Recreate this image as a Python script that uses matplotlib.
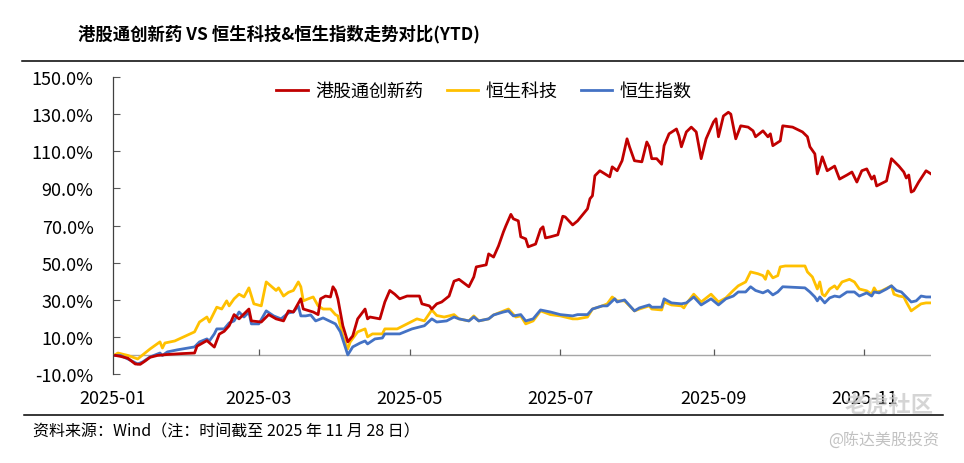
import matplotlib
matplotlib.use("Agg")
import matplotlib.pyplot as plt
from matplotlib.lines import Line2D
import pandas as pd

plt.rcParams['font.family'] = ['Noto Sans CJK SC', 'DejaVu Sans']

title = "港股通创新药 VS 恒生科技&恒生指数走势对比(YTD)"
source = "资料来源：Wind（注：时间截至 2025 年 11 月 28 日）"
series_names = ["港股通创新药", "恒生科技", "恒生指数"]
y_ticks = [-10, 10, 30, 50, 70, 90, 110, 130, 150]
x_ticks = ["2025-01-01", "2025-03-01", "2025-05-01", "2025-07-01", "2025-09-01", "2025-11-01"]
x_labels = ["2025-01", "2025-03", "2025-05", "2025-07", "2025-09", "2025-11"]

red_dates = ["01-02","01-04","01-07","01-10","01-12","01-14","01-16","01-19","01-23","01-29",
             "02-03","02-04","02-08","02-11","02-13","02-15","02-17","02-19","02-21","02-25","02-26",
             "03-02","03-05","03-08","03-11","03-13","03-15","03-18","03-19","03-23","03-25","03-26",
             "03-28","03-30","03-31","04-01","04-02","04-04","04-06","04-08","04-10","04-13","04-14",
             "04-15","04-19","04-21","04-23","04-25","04-27","04-30","05-05","05-06","05-09","05-10",
             "05-12","05-14","05-17","05-19","05-21","05-25","05-27","05-28","06-01","06-02","06-04",
             "06-06","06-08","06-09","06-11","06-12","06-14","06-15","06-17","06-18","06-21","06-23",
             "06-24","06-25","06-27","06-30","07-02","07-03","07-06","07-08","07-12","07-13","07-14",
             "07-15","07-17","07-21","07-22","07-24","07-26","07-28","07-29","07-31","08-03","08-05",
             "08-06","08-07","08-09","08-11","08-12","08-14","08-17","08-18","08-19","08-21","08-23",
             "08-25","08-27","08-29","09-01","09-02","09-03","09-05","09-07","09-08","09-10","09-12",
             "09-15","09-17","09-18","09-21","09-23","09-24","09-25","09-28","09-29","10-03","10-07",
             "10-09","10-10","10-12","10-13","10-14","10-15","10-17","10-20","10-22","10-25","10-27",
             "10-29","10-31","11-02","11-04","11-05","11-06","11-10","11-12","11-15","11-17","11-18",
             "11-19","11-20","11-21","11-23","11-26","11-28"]
red_vals = [0, -0.5, -1.5, -4.6, -4.8, -3, -1, 0, 0.5, 1.0,
            1.3, 5, 8, 4.5, 11.5, 13, 16, 22, 19.7, 25, 18.6,
            18, 22, 19.7, 18.6, 24, 23.4, 30.5, 25, 23.4, 22, 30.5,
            32, 31.5, 37, 35, 30.5, 16, 7.3, 10.5, 19.7, 25, 19.7,
            20.7, 19.7, 28.8, 35, 33, 30.5, 32, 32, 27.8, 26.7, 25,
            27.8, 28.8, 32, 40, 41, 37, 42.3, 47.7, 48.8, 54.7, 53,
            59, 66.6, 69.9, 76, 73.6, 72.5, 63.9, 62.8, 58.5, 60, 68,
            69.3, 63.3, 63.9, 65, 75, 74.6, 70.3, 72.5, 79, 84.4, 86,
            96.8, 99.5, 96.2, 101.6, 99.5, 104.9, 116.7, 112.4, 104.9, 104.3, 115,
            112.4, 106, 106, 103, 113, 119.4, 122, 118.3, 112.4, 120.4, 123,
            120.4, 106, 116.7, 125.8, 127.5, 117.8, 129, 131, 130, 116.7, 123.7,
            123, 121, 117.8, 121, 117.8, 119.4, 113, 115.6, 123.7, 123, 120.4,
            117.8, 112.4, 108.6, 97.8, 102, 107, 99.5, 102, 95, 97.2, 98.8,
            93.4, 99.5, 100.5, 95, 96.7, 91.3, 94, 106, 102, 98.8, 95.6,
            97.2, 88, 88.7, 93.4, 99.5, 97.8]

yel_dates = ["01-02","01-03","01-07","01-11","01-12","01-16","01-20","01-21","01-22","01-26",
             "02-03","02-05","02-08","02-09","02-12","02-14","02-16","02-17","02-19","02-21","02-23",
             "02-25","02-27","03-02","03-04","03-08","03-09","03-11","03-13","03-15","03-17","03-18",
             "03-19","03-21","03-23","03-25","03-27","03-30","04-01","04-02","04-04","04-06","04-07",
             "04-10","04-13","04-14","04-16","04-20","04-21","04-26","04-30","05-04","05-07","05-10",
             "05-12","05-15","05-17","05-19","05-21","05-25","05-27","05-29","06-02","06-04","06-07",
             "06-10","06-13","06-15","06-17","06-20","06-23","06-27","07-01","07-06","07-08","07-12",
             "07-14","07-18","07-20","07-22","07-24","07-27","07-31","08-02","08-06","08-07","08-11",
             "08-12","08-15","08-19","08-20","08-21","08-24","08-27","08-31","09-03","09-06","09-09",
             "09-11","09-14","09-16","09-19","09-21","09-22","09-23","09-25","09-27","09-28","09-30",
             "10-08","10-09","10-11","10-13","10-14","10-15","10-16","10-18","10-20","10-21","10-23",
             "10-26","10-28","10-30","11-02","11-04","11-05","11-06","11-08","11-12","11-13","11-15",
             "11-17","11-18","11-20","11-21","11-24","11-26","11-28"]
yel_vals = [0.5, 1.3, 0, -1.9, -0.8, 3.5, 7.3, 4, 6.7, 7.8,
            12.7, 18, 20.7, 18, 26, 25, 29.4, 26.7, 30.5, 33, 31.5,
            36.4, 27.8, 26.7, 39.6, 35, 36.4, 32, 34, 35, 39.6, 37,
            29.4, 30.5, 31.5, 26.7, 25, 25, 22, 21.3, 10.5, 3.5, 7.3,
            12.7, 14.3, 10, 11.6, 11.6, 14.3, 14.3, 17, 19.7, 18.6, 24.5,
            21.5, 20.7, 21.3, 22, 19.7, 18.6, 21.3, 18.6, 19.7, 21.8, 23.4,
            25, 20.7, 21.3, 17, 18.6, 24, 22, 21.3, 19.7, 19.7, 20.7,
            25, 26.7, 27.8, 31.5, 29.4, 29.4, 24, 25, 26.7, 25, 24.5,
            28.8, 27.2, 26.7, 25.6, 27.8, 33, 28.8, 33, 28.8, 31, 35,
            37.5, 39.6, 45, 44, 43, 41, 45.5, 41.8, 43, 47.7, 48.2,
            48.2, 45, 42.3, 35.8, 39.6, 33, 32, 35.8, 37.5, 35.8, 39.6,
            41, 39.6, 35.8, 34.8, 33, 36.4, 34.2, 34.8, 37.5, 33, 32,
            31.5, 28.8, 24, 25, 27.8, 28.3, 28.3]

blu_dates = ["01-02","01-04","01-07","01-11","01-13","01-16","01-20","01-21","01-23","01-27",
             "02-03","02-05","02-08","02-09","02-11","02-12","02-15","02-17","02-19","02-21","02-23",
             "02-25","02-26","03-01","03-04","03-07","03-10","03-13","03-15","03-17","03-18","03-20",
             "03-22","03-24","03-27","04-01","04-03","04-06","04-08","04-11","04-13","04-14","04-17",
             "04-20","04-21","04-27","05-02","05-07","05-10","05-12","05-16","05-19","05-21","05-25",
             "05-27","05-29","06-02","06-04","06-08","06-10","06-12","06-15","06-17","06-20","06-23",
             "06-27","07-01","07-06","07-08","07-12","07-14","07-18","07-20","07-23","07-24","07-27",
             "07-31","08-02","08-06","08-07","08-11","08-12","08-15","08-19","08-21","08-24","08-27",
             "08-31","09-03","09-06","09-09","09-11","09-14","09-16","09-18","09-21","09-23","09-25",
             "09-27","09-29","10-08","10-10","10-12","10-13","10-14","10-16","10-18","10-20","10-22",
             "10-25","10-28","10-30","11-02","11-04","11-05","11-07","11-10","11-12","11-14","11-16",
             "11-18","11-20","11-22","11-24","11-26","11-28"]
blu_vals = [0, 0, -1.9, -4.6, -3.5, -0.8, 1.3, 0, 1.9, 3,
            4.6, 7.3, 8.9, 7.8, 11.6, 14.3, 14.3, 17.5, 18.6, 23.4, 20.7,
            23.4, 17, 17, 24, 21.3, 19.7, 22.9, 23.4, 26.7, 21.3, 21.3,
            21.8, 18.6, 20.2, 17, 12.7, 0.3, 4.6, 6.7, 7.8, 6.2, 8.9,
            9.4, 11.6, 11.6, 14.3, 16, 19.7, 18, 18.6, 20.7, 19.7, 18.6,
            20.7, 18.6, 19.7, 21.8, 23.4, 24, 21.3, 22, 18.6, 19.7, 24.5,
            23.4, 22, 21.3, 22, 22, 25, 26.7, 26.7, 30.5, 28.8, 29.9,
            24, 25.6, 27.2, 26, 26, 30.5, 28.3, 27.8, 28.3, 31.5, 27.2,
            30.5, 27.2, 30.5, 32, 34.2, 34.2, 37, 35, 33.7, 35, 32.6,
            34.2, 37, 36.4, 34.2, 31.5, 29.4, 31.5, 28.3, 31, 32, 31.5,
            34.2, 34.2, 32, 33.7, 32, 34.2, 33.7, 35.8, 37.5, 35, 34.2,
            31.5, 28.8, 29.4, 32, 31.5, 31.5]

colors = ["#C00000", "#FFC000", "#4472C4"]


def to_dt(ds):
    return pd.to_datetime(["2025-" + d for d in ds])


W, H = 964, 464
fig = plt.figure(figsize=(W / 100, H / 100), dpi=100)
ax_left, ax_right, ax_top, ax_bot = 113, 931, 78, 375
ax = fig.add_axes([ax_left / W, 1 - ax_bot / H, (ax_right - ax_left) / W, (ax_bot - ax_top) / H])

ax.plot(to_dt(yel_dates), yel_vals, color=colors[1], lw=2.0, solid_joinstyle='round', zorder=3)
ax.plot(to_dt(blu_dates), blu_vals, color=colors[2], lw=2.0, solid_joinstyle='round', zorder=4)
ax.plot(to_dt(red_dates), red_vals, color=colors[0], lw=2.0, solid_joinstyle='round', zorder=5)

ax.set_xlim(pd.Timestamp("2025-01-01"), pd.Timestamp("2025-11-28"))
ax.set_ylim(-10, 150)
ax.set_yticks(y_ticks)
ax.set_yticklabels([f"{t:.1f}%" for t in y_ticks], fontsize=13)
ax.tick_params(axis='y', direction='in', length=5, width=0.8, color='#595959', pad=14)

xt = pd.to_datetime(x_ticks)
ax.set_xticks(xt)
ax.set_xticklabels(x_labels, fontsize=13)
ax.tick_params(axis='x', length=0, pad=11)

for s in ['top', 'right', 'bottom']:
    ax.spines[s].set_visible(False)
ax.spines['left'].set_color('#404040')
ax.spines['left'].set_linewidth(0.9)

ax.axhline(0, color='#A6A6A6', lw=1.0, zorder=2)
ax.vlines(xt[1:], 0, 3.2, color='#595959', lw=0.9, zorder=2)

handles = [Line2D([0], [0], color=c, lw=2) for c in colors]
fig.legend(handles, series_names, loc='center', bbox_to_anchor=(484 / W, 1 - 92 / H), ncol=3,
           frameon=False, fontsize=13, handlelength=1.75, handletextpad=0.4, columnspacing=1.3)

fig.text(78 / W, 1 - 34 / H, title, fontsize=12.5, fontweight='bold', ha='left', va='center')
fig.add_artist(Line2D([22 / W, 1.0], [1 - 62 / H, 1 - 62 / H], color='black', lw=1.1))
fig.add_artist(Line2D([24 / W, 943 / W], [1 - 416 / H, 1 - 416 / H], color='black', lw=1.1))
fig.text(33 / W, 1 - 432 / H, source, fontsize=11.5, ha='left', va='center')

# watermark (as in the reference image)
fig.text(845 / W, 1 - 405 / H, "老虎社区", fontsize=16, color='#C8C8C8', alpha=0.75, ha='left', va='center', fontweight='bold', zorder=0)
fig.text(828 / W, 1 - 441 / H, "@陈达美股投资", fontsize=11.5, color='#BBBBBB', alpha=0.9, ha='left', va='center')

fig.savefig("out.png", dpi=100)
